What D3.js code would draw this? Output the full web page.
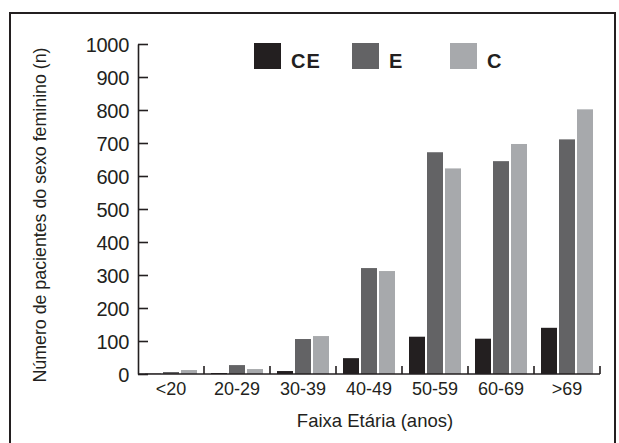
<!DOCTYPE html>
<html>
<head>
<meta charset="utf-8">
<script src="https://cdnjs.cloudflare.com/ajax/libs/d3/7.8.5/d3.min.js"></script>
<style>
  body { margin: 0; background: #fff; }
  svg { display: block; font-family: "Liberation Sans", Arial, sans-serif; }
</style>
</head>
<body>
<div id="chart"></div>
<script>
const faixas = ["<20", "20-29", "30-39", "40-49", "50-59", "60-69", ">69"];
const series = ["CE", "E", "C"];
const valoresCE = [1, 3, 9, 48, 113, 107, 140];
const valoresE = [6, 27, 106, 321, 672, 645, 711];
const valoresC = [12, 15, 115, 312, 623, 697, 802];
const yTicks = [0, 100, 200, 300, 400, 500, 600, 700, 800, 900, 1000];

const width = 619, height = 443;
const ink = "#231f20";
const colors = { CE: "#231f20", E: "#636365", C: "#a7a9ac" };

const margin = { top: 44, right: 19, bottom: 69, left: 138 };

const svg = d3.select("#chart")
    .append("svg")
    .attr("width", width)
    .attr("height", height);

// frame round the figure (no bottom edge)
svg.append("path")
    .attr("d", `M10,443 L10,13 L615,13 L615,443`)
    .attr("fill", "none")
    .attr("stroke", ink)
    .attr("stroke-width", 2);

const x0 = d3.scaleBand()
    .domain(faixas)
    .range([margin.left, width - margin.right]);

const x1 = d3.scaleBand()
    .domain(series)
    .range([0, x0.bandwidth()])
    .paddingInner(1 / 9)
    .paddingOuter(7 / 18);

const y = d3.scaleLinear()
    .domain([0, 1000])
    .range([height - margin.bottom, margin.top]);

const rows = faixas.map((f, i) => ({
    faixa: f,
    CE: valoresCE[i],
    E: valoresE[i],
    C: valoresC[i]
}));

// bars
const groups = svg.append("g")
    .selectAll("g")
    .data(rows)
    .join("g")
    .attr("transform", d => `translate(${x0(d.faixa)},0)`);

groups.selectAll("rect")
    .data(d => series.map(s => ({ key: s, value: d[s] })))
    .join("rect")
    .attr("x", d => x1(d.key))
    .attr("width", x1.bandwidth())
    .attr("y", d => y(d.value))
    .attr("height", d => y(0) - y(d.value))
    .attr("fill", d => colors[d.key]);

// y axis, ticks pointing inward
const yAxis = svg.append("g")
    .attr("transform", `translate(${margin.left},0)`)
    .call(d3.axisLeft(y)
        .tickValues(yTicks)
        .tickFormat(d3.format("d"))
        .tickSize(-10)
        .tickPadding(9)
        .tickSizeOuter(0))
    .attr("font-family", "'Liberation Sans', Arial, sans-serif");

yAxis.select(".domain").attr("stroke", ink).attr("stroke-width", 1.6);
yAxis.selectAll(".tick line").attr("stroke", ink).attr("stroke-width", 1.6);
yAxis.selectAll(".tick text")
    .attr("fill", ink)
    .attr("font-size", "20px")
    .attr("letter-spacing", "-0.3px")
    .attr("dy", "0.36em");

// x axis: baseline with small upward ticks between groups
const xAxis = svg.append("g")
    .attr("transform", `translate(0,${y(0)})`);

xAxis.append("line")
    .attr("x1", margin.left)
    .attr("x2", width - margin.right)
    .attr("stroke", ink)
    .attr("stroke-width", 1.6);

const bounds = faixas.slice(1).map(f => x0(f)).concat([x0(faixas[faixas.length - 1]) + x0.bandwidth()]);
xAxis.selectAll("line.sep")
    .data(bounds)
    .join("line")
    .attr("class", "sep")
    .attr("x1", d => d)
    .attr("x2", d => d)
    .attr("y1", 0)
    .attr("y2", -8)
    .attr("stroke", ink)
    .attr("stroke-width", 1.6);

xAxis.selectAll("text")
    .data(faixas)
    .join("text")
    .attr("x", d => x0(d) + x0.bandwidth() / 2)
    .attr("y", 21)
    .attr("text-anchor", "middle")
    .attr("font-size", "18px")
    .attr("fill", ink)
    .text(d => d);

// axis titles
svg.append("text")
    .attr("x", 375)
    .attr("y", 427)
    .attr("text-anchor", "middle")
    .attr("font-size", "18.5px")
    .attr("fill", ink)
    .text("Faixa Etária (anos)");

svg.append("text")
    .attr("transform", "translate(46,215) rotate(-90)")
    .attr("text-anchor", "middle")
    .attr("font-size", "17.8px")
    .attr("fill", ink)
    .text("Número de pacientes do sexo feminino (n)");

// legend
const legendX = [254, 352, 450];
const legend = svg.append("g")
    .selectAll("g")
    .data(series)
    .join("g")
    .attr("transform", (d, i) => `translate(${legendX[i]},43)`);

legend.append("rect")
    .attr("width", 27)
    .attr("height", 26)
    .attr("fill", d => colors[d]);

legend.append("text")
    .attr("x", 37)
    .attr("y", 25)
    .attr("font-size", "20px")
    .attr("font-weight", "bold")
    .attr("letter-spacing", "1px")
    .attr("fill", ink)
    .text(d => d);
</script>
</body>
</html>
